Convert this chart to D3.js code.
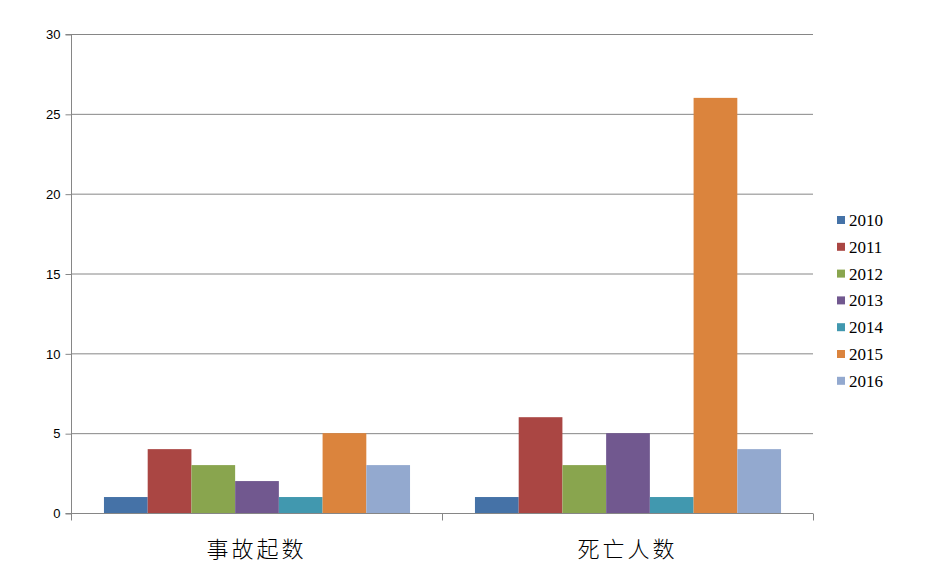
<!DOCTYPE html>
<html><head><meta charset="utf-8">
<script src="https://cdn.jsdelivr.net/npm/d3@7"></script>
<style>body{margin:0;background:#fff}</style>
</head><body>
<svg id="c" width="934" height="581"></svg>
<script>
const categories = ["事故起数", "死亡人数"];
const years = ["2010","2011","2012","2013","2014","2015","2016"];
const values2010 = [1, 1];
const values2011 = [4, 6];
const values2012 = [3, 3];
const values2013 = [2, 5];
const values2014 = [1, 1];
const values2015 = [5, 26];
const values2016 = [3, 4];
const yTicks = [0,5,10,15,20,25,30];
const colors = ["#4572A7","#AA4643","#89A54E","#71588F","#4198AF","#DB843D","#93A9CF"];
const seriesValues = [values2010,values2011,values2012,values2013,values2014,values2015,values2016];

const svg = d3.select("#c");
const L=71,R=813,T=34,B=513;
const y = d3.scaleLinear().domain([0,30]).range([B,T]);
const x0 = d3.scaleBand().domain(categories).range([L,R]).paddingInner(0.175).paddingOuter(0.0875);
const x1 = d3.scaleBand().domain(years).range([0,x0.bandwidth()]);

// gridlines
svg.append("g").selectAll("line").data(yTicks.filter(d=>d>0)).join("line")
  .attr("x1",L).attr("x2",R).attr("y1",d=>y(d)+0.5).attr("y2",d=>y(d)+0.5)
  .attr("stroke","#868686").attr("stroke-width",1);

// bars
categories.forEach((c,ci)=>{
  svg.append("g").selectAll("rect").data(years).join("rect")
    .attr("x",(yr)=>x0(c)+x1(yr)+0.5)
    .attr("width",x1.bandwidth())
    .attr("y",(yr,i)=>y(seriesValues[i][ci]))
    .attr("height",(yr,i)=>B-y(seriesValues[i][ci]))
    .attr("fill",(yr,i)=>colors[i]);
});

// y axis
const ya = svg.append("g").attr("transform",`translate(${L+0.5},0.5)`)
  .call(d3.axisLeft(y).tickValues(yTicks).tickSize(6).tickPadding(5));
ya.select(".domain").attr("stroke","#868686").attr("d",`M-6,${T}H0V${B}H-6`);
ya.selectAll(".tick line").attr("stroke","#868686");
ya.selectAll(".tick text").attr("font-family","'Liberation Sans',Arial,sans-serif").attr("font-size",13).attr("fill","#000");

// x axis
const xa = svg.append("g").attr("transform",`translate(0,${B+0.5})`);
xa.append("line").attr("x1",L).attr("x2",R).attr("stroke","#868686");
[L, (L+R)/2, R].forEach(px=>{
  xa.append("line").attr("x1",Math.round(px)+0.5).attr("x2",Math.round(px)+0.5).attr("y1",0).attr("y2",7).attr("stroke","#868686");
});
svg.append("g").selectAll("text").data(categories).join("text")
  .attr("x",d=>x0(d)+x0.bandwidth()/2).attr("y",557)
  .attr("text-anchor","middle")
  .attr("font-family","'Noto Sans CJK SC',sans-serif").attr("font-weight",300)
  .attr("font-size",22).attr("letter-spacing",3).attr("fill","#000")
  .text(d=>d);

// legend
const lg = svg.append("g");
years.forEach((yr,i)=>{
  const cy = 220 + i*26.8;
  lg.append("rect").attr("x",837).attr("y",cy-4).attr("width",8).attr("height",8).attr("fill",colors[i]);
  lg.append("text").attr("x",849).attr("y",cy+6)
    .attr("font-family","'Liberation Serif','Times New Roman',serif").attr("font-size",17).attr("fill","#000").text(yr);
});
</script>
</body></html>
